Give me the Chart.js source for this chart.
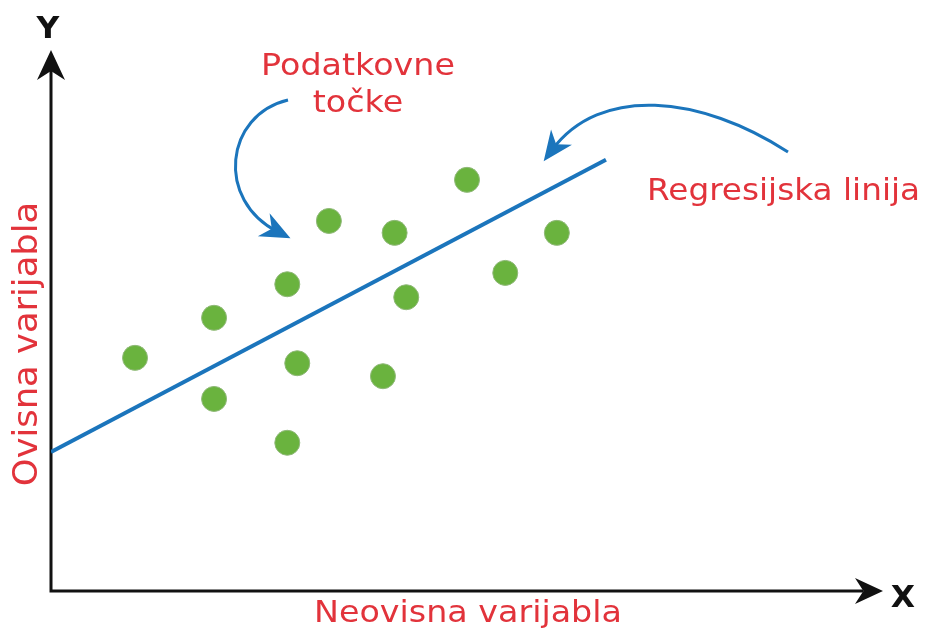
<!DOCTYPE html>
<html>
<head>
<meta charset="utf-8">
<script src="https://cdn.jsdelivr.net/npm/chart.js@4.4.1/dist/chart.umd.min.js"></script>
<style>
  body { margin: 0; background: #fff; }
</style>
</head>
<body>
<canvas id="myChart" width="927" height="630"></canvas>
<script>
// data points (arbitrary units 0..100)
const pointX = [10.1, 19.6, 19.6, 28.4, 29.6, 28.4, 33.4, 41.3, 42.7, 39.9, 50.0, 54.6, 60.8];
const pointY = [43.1, 50.5, 35.5, 56.7, 42.1, 27.4, 68.4, 66.2, 54.3, 39.7, 76.0, 58.8, 66.2];

// regression line ends
const lineX = [0, 66.7];
const lineY = [25.7, 79.7];

// texts
const xName = 'X';
const yName = 'Y';
const xTitle = 'Neovisna varijabla';
const yTitle = 'Ovisna varijabla';
const pointNote = ['Podatkovne', 'točke'];
const lineNote = 'Regresijska linija';

const red = '#e2333b';
const blue = '#1b75bc';
const green = '#6ab33e';
const font = '"DejaVu Sans", sans-serif';

function arrowHead(ctx, tx, ty, dx, dy, len, half, color) {
  const d = Math.hypot(dx, dy);
  const ux = dx / d, uy = dy / d;
  const px = -uy, py = ux;
  ctx.fillStyle = color;
  ctx.beginPath();
  ctx.moveTo(tx, ty);
  ctx.lineTo(tx - ux * len + px * half, ty - uy * len + py * half);
  ctx.lineTo(tx - ux * len * 0.7, ty - uy * len * 0.7);
  ctx.lineTo(tx - ux * len - px * half, ty - uy * len - py * half);
  ctx.closePath();
  ctx.fill();
}

function curvedArrow(ctx, p0, c1, c2, p1) {
  ctx.strokeStyle = blue;
  ctx.lineWidth = 3;
  ctx.beginPath();
  ctx.moveTo(p0[0], p0[1]);
  ctx.bezierCurveTo(c1[0], c1[1], c2[0], c2[1], p1[0], p1[1]);
  ctx.stroke();
  const dx = p1[0] - c2[0], dy = p1[1] - c2[1];
  const d = Math.hypot(dx, dy);
  arrowHead(ctx, p1[0] + dx / d * 14, p1[1] + dy / d * 14, dx, dy, 30, 13, blue);
}

// text a bit wider than the font, like in the picture
function wideText(ctx, text, x, y, align, stretch) {
  const w = ctx.measureText(text).width * stretch;
  let left = x;
  if (align === 'center') left = x - w / 2;
  ctx.save();
  ctx.textAlign = 'left';
  ctx.translate(left, y);
  ctx.scale(stretch, 1);
  ctx.fillText(text, 0, 0);
  ctx.restore();
}

const decor = {
  id: 'decor',
  beforeDatasetsDraw(chart) {
    const ctx = chart.ctx;
    const a = chart.chartArea;
    ctx.save();
    // axes
    ctx.strokeStyle = '#111';
    ctx.lineWidth = 3;
    ctx.beginPath();
    ctx.moveTo(a.left, a.top + 20);
    ctx.lineTo(a.left, a.bottom);
    ctx.lineTo(a.right - 20, a.bottom);
    ctx.stroke();
    arrowHead(ctx, a.left, a.top, 0, -1, 30, 14, '#111');
    arrowHead(ctx, a.right, a.bottom, 1, 0, 28, 13, '#111');
    ctx.restore();
  },
  afterDraw(chart) {
    const ctx = chart.ctx;
    ctx.save();
    ctx.fillStyle = '#111';
    ctx.font = 'bold 30px ' + font;
    ctx.textBaseline = 'alphabetic';
    wideText(ctx, yName, 48, 38, 'center', 1.05);
    wideText(ctx, xName, 903, 607, 'center', 1.05);

    ctx.fillStyle = red;
    ctx.font = '31px ' + font;
    wideText(ctx, xTitle, 468, 622, 'center', 1.075);
    wideText(ctx, pointNote[0], 358, 75, 'center', 1.075);
    wideText(ctx, pointNote[1], 358, 112, 'center', 1.075);
    wideText(ctx, lineNote, 647, 200, 'left', 1.055);

    ctx.save();
    ctx.translate(37, 344);
    ctx.rotate(-Math.PI / 2);
    ctx.font = '33px ' + font;
    wideText(ctx, yTitle, 0, 0, 'center', 1.07);
    ctx.restore();

    curvedArrow(ctx, [288, 100], [225, 115], [215, 200], [278, 232]);
    curvedArrow(ctx, [788, 152], [700, 95], [600, 85], [552, 150]);
    ctx.restore();
  }
};

const points = pointX.map((x, i) => ({ x: x, y: pointY[i] }));
const linePts = lineX.map((x, i) => ({ x: x, y: lineY[i] }));

const config = {
  type: 'scatter',
  data: {
    datasets: [
      {
        label: 'Podatkovne točke',
        data: points,
        backgroundColor: green,
        borderColor: '#8fb878',
        borderWidth: 1,
        pointRadius: 12.5,
        pointHoverRadius: 12.5
      },
      {
        type: 'line',
        label: 'Regresijska linija',
        data: linePts,
        borderColor: blue,
        borderWidth: 4,
        pointRadius: 0,
        fill: false
      }
    ]
  },
  options: {
    responsive: false,
    animation: false,
    layout: { padding: { left: 51, top: 50, right: 44, bottom: 39 } },
    plugins: {
      legend: { display: false },
      tooltip: { enabled: false }
    },
    scales: {
      x: { type: 'linear', min: 0, max: 100, display: false },
      y: { type: 'linear', min: 0, max: 100, display: false }
    }
  },
  plugins: [decor]
};

var myChart = new Chart(document.getElementById('myChart'), config);
</script>
</body>
</html>
